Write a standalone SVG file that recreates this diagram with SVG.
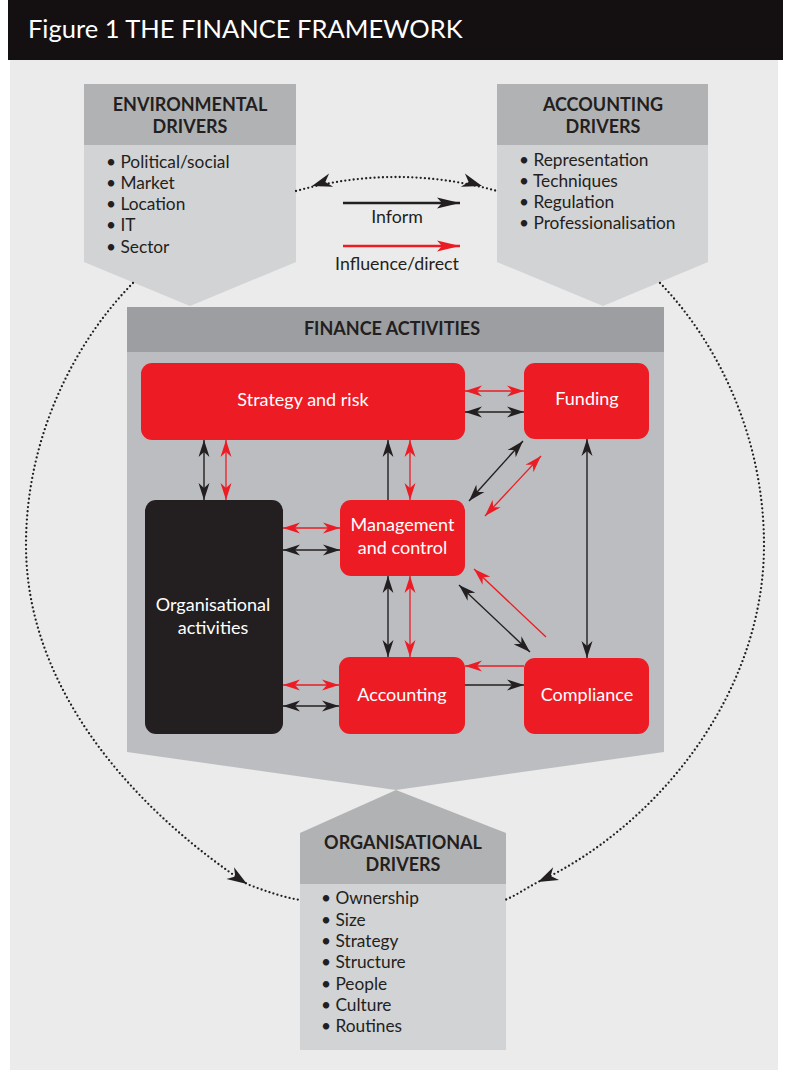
<svg xmlns="http://www.w3.org/2000/svg" width="789" height="1073" viewBox="0 0 789 1073">
  <style>
    .title { font-family: Lato, "Open Sans", sans-serif; font-size: 25.5px; fill: #ffffff; }
    .head { font-family: Lato, "Open Sans", sans-serif; font-size: 18px; font-weight: bold; fill: #231f20; text-anchor: middle; }
    .item { font-family: Lato, "Open Sans", sans-serif; font-size: 17.3px; fill: #231f20; }
    .lbl { font-family: Lato, "Open Sans", sans-serif; font-size: 18px; fill: #ffffff; text-anchor: middle; }
    .leg { font-family: Lato, "Open Sans", sans-serif; font-size: 17.8px; fill: #231f20; text-anchor: middle; }
    .drvHead { fill: #b1b2b4; }
    .drvBody { fill: #d2d3d5; }
    .red { fill: #ed1c24; }
    .dark { fill: #231f20; }
    .dots { fill: none; stroke: #231f20; stroke-width: 2.3; stroke-linecap: round; stroke-dasharray: 0 4.2; }
    .ck { fill: none; stroke: #231f20; stroke-width: 1.4; }
    .cr { fill: none; stroke: #ed1c24; stroke-width: 1.3; }
  </style>
  <defs>
    <marker id="ak" viewBox="-17 -6 18 12" refX="0" refY="0" markerWidth="18" markerHeight="12" markerUnits="userSpaceOnUse" orient="auto-start-reverse">
      <path d="M0,0 L-17,-5.5 L-12,0 L-17,5.5 Z" fill="#231f20"/>
    </marker>
    <marker id="ar" viewBox="-17 -6 18 12" refX="0" refY="0" markerWidth="18" markerHeight="12" markerUnits="userSpaceOnUse" orient="auto-start-reverse">
      <path d="M0,0 L-17,-5.5 L-12,0 L-17,5.5 Z" fill="#ed1c24"/>
    </marker>
    <marker id="lk" viewBox="-24 -6 25 12" refX="0" refY="0" markerWidth="25" markerHeight="12" markerUnits="userSpaceOnUse" orient="auto">
      <path d="M0,0 L-23,-5.5 L-18,0 L-23,5.5 Z" fill="#231f20"/>
    </marker>
    <marker id="lr" viewBox="-24 -6 25 12" refX="0" refY="0" markerWidth="25" markerHeight="12" markerUnits="userSpaceOnUse" orient="auto">
      <path d="M0,0 L-23,-5.5 L-18,0 L-23,5.5 Z" fill="#ed1c24"/>
    </marker>
    <path id="dotHead" d="M0,0 L-20,-7 L-14,0 L-20,7 Z" fill="#231f20"/>
  </defs>

  <!-- page -->
  <rect x="8" y="0" width="775" height="60" fill="#141011"/>
  <rect x="10" y="60" width="768" height="1010" fill="#eaebea"/>
  <text class="title" x="28" y="38">Figure 1 THE FINANCE FRAMEWORK</text>

  <!-- environmental drivers -->
  <g id="environmental-drivers">
    <path class="drvBody" d="M84,145 H296 V262 L190,306 L84,262 Z"/>
    <rect class="drvHead" x="84" y="84" width="212" height="61"/>
    <text class="head" x="190" y="111">ENVIRONMENTAL</text>
    <text class="head" x="190" y="133">DRIVERS</text>
    <text class="item" x="106" y="168">• Political/social</text>
    <text class="item" x="106" y="189">• Market</text>
    <text class="item" x="106" y="210">• Location</text>
    <text class="item" x="106" y="231">• IT</text>
    <text class="item" x="106" y="253">• Sector</text>
  </g>

  <!-- accounting drivers -->
  <g id="accounting-drivers">
    <path class="drvBody" d="M497,145 H708 V262 L603,306 L497,262 Z"/>
    <rect class="drvHead" x="497" y="84" width="211" height="61"/>
    <text class="head" x="603" y="111">ACCOUNTING</text>
    <text class="head" x="603" y="133">DRIVERS</text>
    <text class="item" x="519" y="166">• Representation</text>
    <text class="item" x="519" y="187">• Techniques</text>
    <text class="item" x="519" y="208">• Regulation</text>
    <text class="item" x="519" y="229">• Professionalisation</text>
  </g>

  <!-- organisational drivers -->
  <g id="organisational-drivers">
    <path class="drvHead" d="M300,833 L396,790 L506,833 V884 H300 Z"/>
    <rect class="drvBody" x="300" y="884" width="206" height="166"/>
    <text class="head" x="403" y="849">ORGANISATIONAL</text>
    <text class="head" x="403" y="871">DRIVERS</text>
    <text class="item" x="321" y="904">• Ownership</text>
    <text class="item" x="321" y="926">• Size</text>
    <text class="item" x="321" y="947">• Strategy</text>
    <text class="item" x="321" y="968">• Structure</text>
    <text class="item" x="321" y="990">• People</text>
    <text class="item" x="321" y="1011">• Culture</text>
    <text class="item" x="321" y="1032">• Routines</text>
  </g>

  <!-- finance activities container -->
  <g id="finance-activities">
    <path fill="#bcbdc0" d="M127,352 H664 V752 L396,790 L127,752 Z"/>
    <rect x="127" y="307" width="537" height="45" fill="#9d9ea1"/>
    <text class="head" x="392" y="335">FINANCE ACTIVITIES</text>
  </g>

  <!-- dotted influence loops -->
  <g id="loops">
    <path class="dots" d="M296,191 Q396,163 497,191"/>
    <use href="#dotHead" transform="translate(312,186) rotate(163)"/>
    <use href="#dotHead" transform="translate(482,186) rotate(17)"/>
    <path class="dots" d="M133,283 C72,345 26,440 26,545 C26,700 150,820 247,884 C265,891 282,897 300,900"/>
    <use href="#dotHead" transform="translate(247,884) rotate(33)"/>
    <path class="dots" d="M660,283 C720,345 764,440 764,545 C764,700 650,830 538,882 C525,889 515,896 505,900"/>
    <use href="#dotHead" transform="translate(538,882) rotate(155)"/>
  </g>

  <!-- legend -->
  <g id="legend">
    <line x1="343" y1="203" x2="460" y2="203" stroke="#231f20" stroke-width="2.5" marker-end="url(#lk)"/>
    <text class="leg" x="397" y="223">Inform</text>
    <line x1="343" y1="246" x2="460" y2="246" stroke="#ed1c24" stroke-width="2.5" marker-end="url(#lr)"/>
    <text class="leg" x="397" y="270">Influence/direct</text>
  </g>

  <!-- activity nodes -->
  <g id="strategy-and-risk">
    <rect class="red" x="141" y="363" width="324" height="77" rx="11"/>
    <text class="lbl" x="303" y="406">Strategy and risk</text>
  </g>
  <g id="funding">
    <rect class="red" x="524" y="363" width="125" height="76" rx="11"/>
    <text class="lbl" x="587" y="405">Funding</text>
  </g>
  <g id="management-and-control">
    <rect class="red" x="340" y="500" width="125" height="76" rx="11"/>
    <text class="lbl" x="402.5" y="531">Management</text>
    <text class="lbl" x="402.5" y="554">and control</text>
  </g>
  <g id="organisational-activities">
    <rect class="dark" x="145" y="500" width="138" height="234" rx="11"/>
    <text class="lbl" x="213" y="611">Organisational</text>
    <text class="lbl" x="213" y="634">activities</text>
  </g>
  <g id="accounting">
    <rect class="red" x="339" y="657" width="126" height="77" rx="11"/>
    <text class="lbl" x="402" y="701">Accounting</text>
  </g>
  <g id="compliance">
    <rect class="red" x="524" y="658" width="125" height="76" rx="11"/>
    <text class="lbl" x="587" y="701">Compliance</text>
  </g>

  <!-- connectors -->
  <g id="connectors">
    <path class="cr" d="M465,391 H524" marker-start="url(#ar)" marker-end="url(#ar)"/>
    <path class="ck" d="M465,412 H524" marker-start="url(#ak)" marker-end="url(#ak)"/>
    <path class="ck" d="M204,440 V500" marker-start="url(#ak)" marker-end="url(#ak)"/>
    <path class="cr" d="M226,440 V500" marker-start="url(#ar)" marker-end="url(#ar)"/>
    <path class="ck" d="M388,500 V440" marker-end="url(#ak)"/>
    <path class="cr" d="M410,440 V500" marker-start="url(#ar)" marker-end="url(#ar)"/>
    <path class="cr" d="M283,528 H340" marker-start="url(#ar)" marker-end="url(#ar)"/>
    <path class="ck" d="M283,550 H340" marker-start="url(#ak)" marker-end="url(#ak)"/>
    <path class="ck" d="M388,576 V657" marker-start="url(#ak)" marker-end="url(#ak)"/>
    <path class="cr" d="M410,576 V657" marker-start="url(#ar)" marker-end="url(#ar)"/>
    <path class="cr" d="M283,685 H339" marker-start="url(#ar)" marker-end="url(#ar)"/>
    <path class="ck" d="M283,706 H339" marker-start="url(#ak)" marker-end="url(#ak)"/>
    <path class="ck" d="M465,685 H524" marker-end="url(#ak)"/>
    <path class="cr" d="M524,666 H465" marker-end="url(#ar)"/>
    <path class="ck" d="M587,439 V658" marker-start="url(#ak)" marker-end="url(#ak)"/>
    <path class="ck" d="M523,441 L469,501" marker-start="url(#ak)" marker-end="url(#ak)"/>
    <path class="cr" d="M541,456 L485,516" marker-start="url(#ar)" marker-end="url(#ar)"/>
    <path class="ck" d="M459,585 L530,652" marker-start="url(#ak)" marker-end="url(#ak)"/>
    <path class="cr" d="M546,637 L474,569" marker-end="url(#ar)"/>
  </g>
</svg>
